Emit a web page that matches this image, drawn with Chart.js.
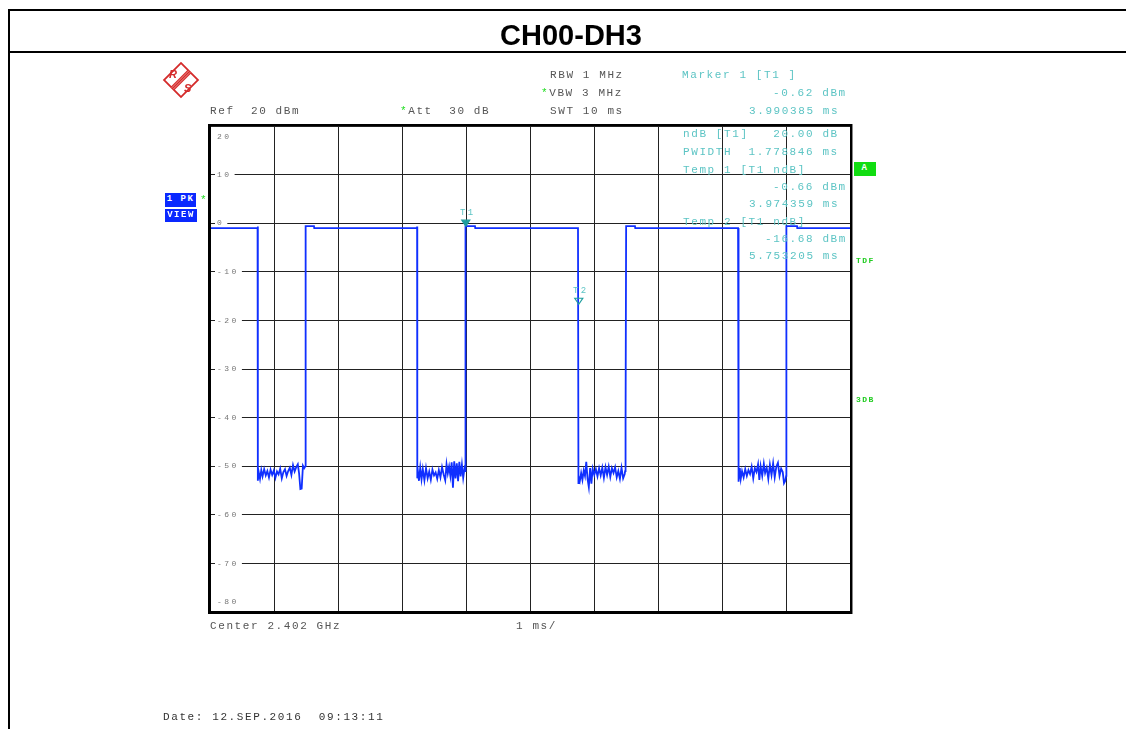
<!DOCTYPE html>
<html>
<head>
<meta charset="utf-8">
<title>CH00-DH3</title>
<script src="https://cdn.jsdelivr.net/npm/chart.js@4.4.0/dist/chart.umd.min.js"></script>
<style>
    html, body { margin: 0; padding: 0; background: #fff; }
    #page { position: relative; width: 1126px; height: 729px; overflow: hidden; }
    #chart { position: absolute; left: 0; top: 0; }
    .rule { position: absolute; background: #000; }
    #title { position: absolute; left: 8px; width: 1126px; top: 19px; line-height: 34px; text-align: center;
             font: bold 29px "Liberation Sans", Arial, sans-serif; color: #000; }
    .t { position: absolute; font: 11px "Liberation Mono", "DejaVu Sans Mono", monospace; letter-spacing: 1.6px;
         line-height: 12px; white-space: pre; color: #555; }
    .mk { color: #5cc4c4; }
    .star { color: #22dd22; }
    .box { position: absolute; background: #0a28ff; color: #fff; font: bold 9px "Liberation Mono", monospace;
           letter-spacing: 1.5px; line-height: 13px; text-align: center; }
    .side { position: absolute; font: bold 8px "Liberation Mono", monospace; letter-spacing: 1.5px; color: #22cc22; }
    #logo { position: absolute; left: 160px; top: 59px; }
</style>
</head>
<body>
<div id="page">
    <canvas id="chart" width="1126" height="729"></canvas>

    <div class="rule" style="left:8px; top:9px; width:1118px; height:2px;"></div>
    <div class="rule" style="left:8px; top:9px; width:2px; height:720px;"></div>
    <div class="rule" style="left:8px; top:51px; width:1118px; height:2px;"></div>
    <div id="title">CH00-DH3</div>

    <svg id="logo" width="42" height="42" viewBox="0 0 42 42">
        <g transform="translate(21,21) rotate(45)" stroke="#d42a2a" fill="none">
            <rect x="-12" y="-12" width="24" height="24" stroke-width="1.8" fill="#fff"/>
            <rect x="-2.5" y="-12" width="5" height="24" stroke="none" fill="#d42a2a"/>
            <line x1="-1" y1="-12" x2="-1" y2="12" stroke="#f4b0b0" stroke-width="0.7"/>
            <line x1="1" y1="-12" x2="1" y2="12" stroke="#f4b0b0" stroke-width="0.7"/>
        </g>
        <text x="9" y="19" font-family="Liberation Sans, Arial" font-weight="bold" font-style="italic" font-size="11" fill="#d42a2a">R</text>
        <text x="24" y="33" font-family="Liberation Sans, Arial" font-weight="bold" font-style="italic" font-size="11" fill="#d42a2a">S</text>
    </svg>

    <!-- instrument settings -->
    <div class="t" style="left:210px; top:105px;">Ref  20 dBm</div>
    <div class="t" style="left:400px; top:105px;"><span class="star">*</span>Att  30 dB</div>
    <div class="t" style="left:550px; top:69px;">RBW 1 MHz</div>
    <div class="t" style="left:541px; top:87px;"><span class="star">*</span>VBW 3 MHz</div>
    <div class="t" style="left:550px; top:105px;">SWT 10 ms</div>

    <!-- marker readout -->
    <div class="t mk" style="left:682px; top:69px;">Marker 1 [T1 ]</div>
    <div class="t mk" style="left:773px; top:87px;">-0.62 dBm</div>
    <div class="t mk" style="left:749px; top:105px;">3.990385 ms</div>
    <div class="t mk" style="left:683px; top:128px;">ndB [T1]   20.00 dB</div>
    <div class="t mk" style="left:683px; top:146px;">PWIDTH  1.778846 ms</div>
    <div class="t mk" style="left:683px; top:164px;">Temp 1 [T1 ndB]</div>
    <div class="t mk" style="left:773px; top:181px;">-0.66 dBm</div>
    <div class="t mk" style="left:749px; top:198px;">3.974359 ms</div>
    <div class="t mk" style="left:683px; top:216px;">Temp 2 [T1 ndB]</div>
    <div class="t mk" style="left:765px; top:233px;">-16.68 dBm</div>
    <div class="t mk" style="left:749px; top:250px;">5.753205 ms</div>

    <!-- trace / status flags -->
    <div class="box" style="left:165px; top:193px; width:31px; height:14px;">1 PK</div>
    <div class="box" style="left:165px; top:209px; width:32px; height:13px;">VIEW</div>
    <div class="t star" style="left:200px; top:194px;">*</div>
    <div class="box" style="left:854px; top:162px; width:22px; height:14px; background:#11dd11;">A</div>
    <div class="side" style="left:856px; top:256px;">TDF</div>
    <div class="side" style="left:856px; top:395px;">3DB</div>

    <div class="t" style="left:210px; top:620px;">Center 2.402 GHz</div>
    <div class="t" style="left:516px; top:620px;">1 ms/</div>
    <div class="t" style="left:163px; top:711px; color:#333;">Date: 12.SEP.2016  09:13:11</div>
</div>

<script>
// sweep range (ms) and level range (dBm)
const sweepStart = 0;
const sweepEnd = 10;
const levelTop = 20;
const levelBottom = -80;

// trace: time in ms, level in dBm
const traceTime = [
    // burst 1 on, gap 1
    0, 0.742, 0.745, 0.748,
    0.76, 0.78, 0.80, 0.82, 0.845, 0.87, 0.895, 0.92, 0.945, 0.97, 0.995, 1.02, 1.045, 1.07, 1.095, 1.12,
    1.145, 1.17, 1.195, 1.22, 1.245, 1.27, 1.295, 1.32, 1.345, 1.37, 1.39, 1.41, 1.43, 1.45, 1.47, 1.488,
    // burst 2 on, gap 2
    1.492, 1.622, 1.626, 3.228, 3.231, 3.234,
    3.245, 3.26, 3.28, 3.30, 3.32, 3.345, 3.37, 3.395, 3.42, 3.445, 3.47, 3.495, 3.52, 3.545, 3.57, 3.595,
    3.62, 3.645, 3.67, 3.69, 3.71, 3.73, 3.75, 3.77, 3.79, 3.81, 3.83, 3.85, 3.87, 3.89, 3.91, 3.93, 3.95, 3.97, 3.982,
    // burst 3 on, gap 3
    3.986, 4.134, 4.138, 5.741, 5.748,
    5.755, 5.77, 5.79, 5.81, 5.83, 5.85, 5.87, 5.89, 5.91, 5.93, 5.95, 5.97, 5.995, 6.02, 6.045, 6.07, 6.095,
    6.12, 6.145, 6.17, 6.195, 6.22, 6.245, 6.27, 6.295, 6.32, 6.345, 6.37, 6.395, 6.42, 6.445, 6.47, 6.476, 6.478, 6.488,
    // burst 4 on, gap 4
    6.492, 6.630, 6.634, 8.238, 8.242,
    8.25, 8.265, 8.28, 8.30, 8.325, 8.35, 8.375, 8.40, 8.425, 8.45, 8.475, 8.50, 8.525, 8.55, 8.57, 8.59,
    8.615, 8.64, 8.66, 8.685, 8.71, 8.735, 8.76, 8.785, 8.81, 8.835, 8.86, 8.885, 8.91, 8.935, 8.955, 8.975, 8.988,
    // burst 5 on
    8.992, 9.158, 9.162, 10
];
const traceLevel = [
    -1.0, -1.0, -0.7, -53.0,
    -51.2, -52.6, -50.8, -52.1, -50.6, -51.9, -51.0, -52.3, -50.7, -51.8, -50.9, -52.4, -51.1, -51.7, -50.5, -52.5,
    -51.2, -50.6, -52.0, -51.0, -50.3, -51.8, -49.8, -51.1, -50.2, -49.6, -51.5, -54.7, -54.6, -49.9, -50.4, -50.0,
    -0.6, -0.6, -1.0, -1.0, -0.7, -52.5,
    -51.2, -53.0, -50.3, -52.7, -50.6, -52.9, -50.4, -52.5, -51.1, -52.8, -50.7, -51.9, -51.3, -52.6, -50.8, -52.3,
    -50.2, -51.7, -52.9, -49.6, -51.5, -50.1, -52.0, -49.2, -54.4, -49.0, -52.5, -49.4, -53.1, -49.1, -52.1, -49.7, -52.4, -50.5, -51.0,
    -0.6, -0.6, -1.0, -1.0, -53.5,
    -52.3, -53.0, -51.4, -52.8, -50.9, -52.0, -49.1, -52.6, -54.3, -50.4, -53.6, -50.5, -51.8, -50.6, -52.1, -50.4, -51.9,
    -50.3, -52.4, -50.2, -51.8, -50.1, -52.2, -50.4, -51.4, -50.2, -52.3, -51.0, -52.6, -50.3, -52.5, -51.6, -51.0, -41.0, -40.8,
    -0.6, -0.6, -1.0, -1.0, -52.5,
    -53.2, -50.4, -52.6, -51.0, -52.3, -50.6, -52.0, -50.8, -51.6, -50.1, -52.5, -50.4, -51.2, -49.6, -52.8, -50.0,
    -52.0, -49.5, -51.4, -50.3, -52.6, -49.7, -51.8, -49.4, -52.3, -50.1, -49.3, -52.0, -50.5, -51.2, -53.5, -53.0, -52.0,
    -0.6, -0.6, -1.0, -1.0
];

// markers
const markerName = ['T1', 'T2'];
const markerTime = [3.990385, 5.753205];
const markerLevel = [-0.62, -16.68];
const markerFilled = [true, false];

// draws the inner edge labels, the markers and the heavy frame of the screen
const screenDecor = {
    id: 'screenDecor',
    beforeUpdate(chart) {
        chart.ctx.letterSpacing = '2.5px';
    },
    afterDatasetsDraw(chart) {
        const ctx = chart.ctx;
        const a = chart.chartArea;
        const x = chart.scales.x;
        const y = chart.scales.y;
        ctx.save();

        // top and bottom labels sit inside the frame
        ctx.font = '8px "Liberation Mono", monospace';
        ctx.fillStyle = '#777';
        ctx.textBaseline = 'middle';
        ctx.textAlign = 'left';
        ctx.fillText(String(levelTop), a.left + 7, y.getPixelForValue(levelTop) + 11);
        ctx.fillText(String(levelBottom), a.left + 7, y.getPixelForValue(levelBottom) - 10);

        // markers: triangle tip on the trace, name above
        for (let i = 0; i < markerName.length; i++) {
            const px = x.getPixelForValue(markerTime[i]);
            const py = y.getPixelForValue(markerLevel[i]);
            ctx.beginPath();
            ctx.moveTo(px, py);
            ctx.lineTo(px - 4, py - 6);
            ctx.lineTo(px + 4, py - 6);
            ctx.closePath();
            ctx.lineWidth = 1.2;
            ctx.strokeStyle = '#1f9e9e';
            if (markerFilled[i]) {
                ctx.fillStyle = '#1f9e9e';
                ctx.fill();
            }
            ctx.stroke();
            ctx.fillStyle = '#5cc4c4';
            ctx.font = '9px "Liberation Mono", monospace';
            ctx.textAlign = 'center';
            ctx.fillText(markerName[i], px + 2, py - 14);
        }

        // frame
        ctx.fillStyle = '#000';
        ctx.fillRect(a.left - 2, a.top - 2, a.right - a.left + 3, 2);
        ctx.fillRect(a.left - 2, a.top - 2, 3, a.bottom - a.top + 4);
        ctx.fillRect(a.left - 2, a.bottom - 1, a.right - a.left + 3, 3);
        ctx.fillRect(a.right - 1, a.top - 2, 2, a.bottom - a.top + 4);
        ctx.fillStyle = '#888';
        ctx.fillRect(a.right + 1, a.top - 2, 1, a.bottom - a.top + 4);
        ctx.restore();
    }
};

new Chart(document.getElementById('chart'), {
    type: 'line',
    data: {
        datasets: [{
            label: 'Trace 1',
            data: traceTime.map((t, i) => ({ x: t, y: traceLevel[i] })),
            borderColor: '#1030ff',
            borderWidth: 1.8,
            pointRadius: 0,
            tension: 0,
            fill: false
        }]
    },
    options: {
        responsive: false,
        animation: false,
        events: [],
        layout: { padding: { left: 210, top: 126, right: 275, bottom: 117 } },
        plugins: {
            legend: { display: false },
            tooltip: { enabled: false }
        },
        scales: {
            x: {
                type: 'linear',
                min: sweepStart,
                max: sweepEnd,
                afterFit: (scale) => { scale.height = 0; },
                border: { display: false },
                grid: { color: '#222', lineWidth: 1, drawTicks: false },
                ticks: { display: false, stepSize: 1 }
            },
            y: {
                type: 'linear',
                min: levelBottom,
                max: levelTop,
                afterFit: (scale) => { scale.width = 0; },
                border: { display: false },
                grid: { color: '#222', lineWidth: 1, drawTicks: false },
                ticks: {
                    stepSize: 10,
                    mirror: true,
                    padding: 7,
                    color: '#777',
                    font: { family: '"Liberation Mono", monospace', size: 8 },
                    callback: (v) => (v === levelTop || v === levelBottom) ? '' : String(v),
                    showLabelBackdrop: true,
                    backdropColor: (c) => (c.tick && (c.tick.value === levelTop || c.tick.value === levelBottom)) ? 'rgba(0,0,0,0)' : '#fff',
                    backdropPadding: { top: 0, bottom: 0, left: 2, right: 3 }
                }
            }
        }
    },
    plugins: [screenDecor]
});
</script>
</body>
</html>
